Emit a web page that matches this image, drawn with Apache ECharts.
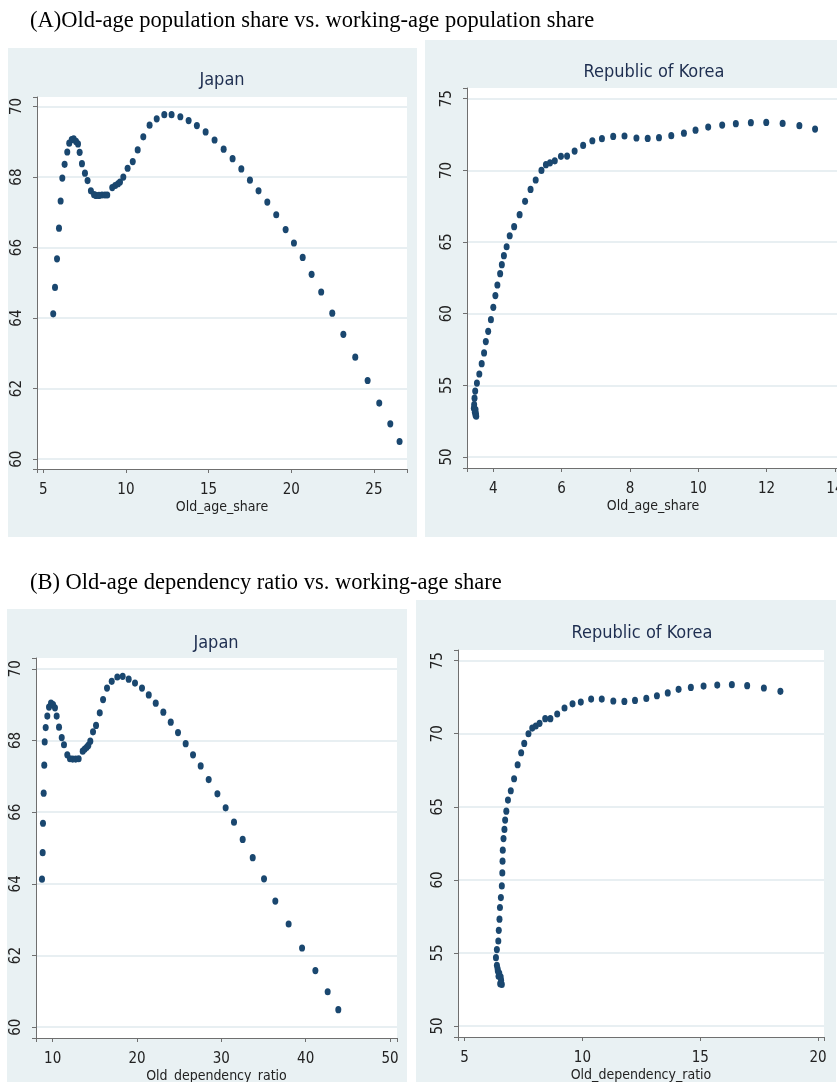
<!DOCTYPE html>
<html>
<head>
<meta charset="utf-8">
<script src="https://cdn.jsdelivr.net/npm/echarts@6/dist/echarts.min.js"></script>
<style>
html,body{margin:0;padding:0;background:#fff;}
#chart{width:837px;height:1082px;}
</style>
</head>
<body>
<div id="chart"></div>
<script>
// ---------- DATA ----------
const headingA = "(A)Old-age population share vs. working-age population share";
const headingB = "(B) Old-age dependency ratio vs. working-age share";
const panelTitles = ["Japan", "Republic of Korea", "Japan", "Republic of Korea"];
const xNames = ["Old_age_share", "Old_age_share", "Old_dependency_ratio", "Old_dependency_ratio"];

// Japan: old-age share (x) vs working-age share (y)
const japanOldShare = [5.60,5.71,5.83,5.95,6.05,6.15,6.29,6.45,6.57,6.72,6.84,6.98,7.10,7.20,7.34,7.52,7.68,7.88,8.07,8.19,8.37,8.55,8.73,8.87,9.17,9.35,9.52,9.64,9.84,10.10,10.41,10.71,11.05,11.43,11.86,12.32,12.76,13.29,13.79,14.29,14.82,15.36,15.91,16.45,16.98,17.50,18.02,18.55,19.09,19.66,20.16,20.69,21.23,21.81,22.48,23.15,23.87,24.62,25.32,25.99,26.55];
const japanWorkShareA = [64.12,64.87,65.68,66.55,67.32,67.97,68.36,68.71,68.96,69.06,69.08,69.01,68.94,68.70,68.38,68.11,67.90,67.61,67.50,67.48,67.48,67.49,67.49,67.49,67.70,67.76,67.81,67.86,68.00,68.25,68.44,68.77,69.14,69.47,69.65,69.77,69.77,69.71,69.60,69.46,69.28,69.05,68.79,68.52,68.23,67.91,67.61,67.29,66.93,66.51,66.13,65.72,65.24,64.74,64.14,63.54,62.89,62.23,61.59,61.00,60.50];

// Korea: old-age share (x) vs working-age share (y)
const koreaOldShare = [3.47,3.45,3.44,3.43,3.46,3.48,3.50,3.49,3.48,3.52,3.59,3.66,3.73,3.78,3.85,3.93,4.00,4.06,4.12,4.20,4.25,4.31,4.39,4.48,4.61,4.77,4.93,5.09,5.24,5.41,5.54,5.66,5.80,5.98,6.16,6.38,6.63,6.90,7.18,7.51,7.84,8.19,8.52,8.85,9.21,9.58,9.92,10.29,10.70,11.10,11.54,11.99,12.47,12.96,13.42];
const koreaWorkShareA = [54.60,54.10,53.65,53.40,53.12,52.92,52.85,53.05,53.30,55.16,55.79,56.51,57.26,58.05,58.77,59.58,60.44,61.26,62.00,62.79,63.42,64.05,64.67,65.44,66.07,66.91,67.84,68.67,69.33,70.00,70.40,70.53,70.67,70.98,71.00,71.35,71.74,72.07,72.21,72.37,72.40,72.26,72.23,72.28,72.42,72.60,72.81,73.02,73.16,73.26,73.33,73.35,73.28,73.12,72.88];

// Japan: old dependency ratio (x) vs working-age share (y)
const japanDepRatio = [8.73,8.81,8.85,8.93,9.00,9.05,9.17,9.36,9.56,9.80,10.04,10.27,10.47,10.75,11.07,11.34,11.73,12.05,12.37,12.73,13.08,13.56,13.80,14.03,14.22,14.46,14.78,15.14,15.58,15.97,16.44,17.00,17.66,18.30,19.01,19.76,20.59,21.39,22.22,23.12,24.00,24.86,25.77,26.64,27.55,28.50,29.53,30.51,31.50,32.53,33.72,35.06,36.40,37.98,39.57,41.15,42.61,43.87];
const japanWorkShareB = [64.13,64.87,65.69,66.53,67.31,67.96,68.36,68.68,68.93,69.04,69.00,68.91,68.68,68.37,68.08,67.88,67.60,67.49,67.48,67.48,67.49,67.70,67.76,67.81,67.86,67.98,68.24,68.42,68.77,69.14,69.46,69.65,69.77,69.79,69.71,69.60,69.46,69.27,69.04,68.79,68.51,68.22,67.91,67.60,67.29,66.91,66.51,66.12,65.72,65.24,64.73,64.14,63.52,62.88,62.21,61.58,60.99,60.49];

// Korea: old dependency ratio (x) vs working-age share (y)
const koreaDepRatio = [6.37,6.40,6.41,6.44,6.47,6.53,6.55,6.58,6.51,6.33,6.37,6.43,6.45,6.48,6.50,6.54,6.58,6.60,6.61,6.62,6.65,6.69,6.72,6.77,6.84,6.96,7.10,7.25,7.40,7.53,7.71,7.87,8.02,8.18,8.42,8.64,8.93,9.24,9.58,9.93,10.37,10.82,11.31,11.78,12.23,12.71,13.16,13.62,14.08,14.60,15.14,15.72,16.34,16.99,17.70,18.40];
const koreaWorkShareB = [54.16,53.93,53.77,53.40,53.63,53.36,53.13,52.85,52.90,54.68,55.23,55.82,56.55,57.31,58.11,58.79,59.59,60.48,61.28,62.03,62.83,63.45,64.09,64.70,65.46,66.10,66.92,67.88,68.70,69.34,70.00,70.39,70.53,70.71,71.03,71.03,71.35,71.76,72.05,72.17,72.37,72.37,72.24,72.21,72.28,72.42,72.60,72.79,73.04,73.17,73.26,73.33,73.36,73.29,73.13,72.90];

// ---------- LAYOUT / STYLE ----------
const FONT = "'Liberation Sans Narrow','Arial Narrow','DejaVu Sans Condensed',sans-serif";
const NAVY = '#1A476F';
const AXIS = '#6f6f6f';
const PANEL = '#E9F1F3';
const GRIDLINE = '#E0EAEE';

const grids = [
  {left: 37,  top: 97,  width: 370, height: 372},
  {left: 467, top: 88,  width: 372, height: 380},
  {left: 36,  top: 658, width: 361, height: 380},
  {left: 458, top: 650, width: 366, height: 387}
];
const xRanges = [[4.62, 27.0, 5], [3.23, 14.12, 2], [8.02, 50.83, 10], [4.72, 20.25, 5]];
const yRanges = [[59.72, 70.27, 2], [49.23, 75.75, 5], [59.70, 70.30, 2], [49.25, 75.73, 5]];

function fmt(step) {
  return function (v) {
    const r = v / step;
    return Math.abs(r - Math.round(r)) < 1e-6 ? String(Math.round(v)) : '';
  };
}
function xAxisCfg(i) {
  const [min, max, step] = xRanges[i];
  return {
    type: 'value', gridIndex: i, min, max, minInterval: step, maxInterval: step,
    name: xNames[i], nameLocation: 'middle', nameGap: 31,
    nameTextStyle: {fontFamily: FONT, fontSize: 14, color: '#222'},
    axisLine: {show: true, onZero: false, lineStyle: {color: AXIS, width: 1}},
    axisTick: {show: true, length: 4, lineStyle: {color: AXIS}},
    axisLabel: {margin: 14, fontFamily: FONT, fontSize: 15, color: '#222', formatter: fmt(step)},
    splitLine: {show: false}
  };
}
function yAxisCfg(i) {
  const [min, max, step] = yRanges[i];
  return {
    type: 'value', gridIndex: i, min, max, minInterval: step, maxInterval: step,
    axisLine: {show: true, onZero: false, lineStyle: {color: AXIS, width: 1}},
    axisTick: {show: true, length: 4, lineStyle: {color: AXIS}},
    axisLabel: {rotate: 90, margin: 12, fontFamily: FONT, fontSize: 15, color: '#222', formatter: fmt(step)},
    splitLine: {show: true, showMinLine: false, showMaxLine: false, lineStyle: {color: GRIDLINE, width: 1.5}}
  };
}
function zip(xs, ys) { return xs.map((x, k) => [x, ys[k]]); }
const seriesData = [
  zip(japanOldShare, japanWorkShareA),
  zip(koreaOldShare, koreaWorkShareA),
  zip(japanDepRatio, japanWorkShareB),
  zip(koreaDepRatio, koreaWorkShareB)
];

const panels = [
  {x: 8,   y: 48,  w: 409, h: 489},
  {x: 425, y: 40,  w: 412, h: 497},
  {x: 7,   y: 609, w: 400, h: 473},
  {x: 416, y: 600, w: 420, h: 482}
];
const titlePos = [[222, 80], [654, 72], [216, 643], [642, 633]];

const graphic = [];
panels.forEach(p => graphic.push({type: 'rect', z: -10, shape: {x: p.x, y: p.y, width: p.w, height: p.h}, style: {fill: PANEL}, silent: true}));
titlePos.forEach((t, i) => graphic.push({type: 'text', x: t[0], y: t[1], style: {text: panelTitles[i], fontFamily: FONT, fontSize: 18, fill: '#1E2E50', align: 'center', verticalAlign: 'middle'}}));
graphic.push({type: 'text', x: 30, y: 21, style: {text: headingA, fontFamily: "'Liberation Serif','Times New Roman',serif", fontSize: 22.5, fill: '#000', align: 'left', verticalAlign: 'middle'}});
graphic.push({type: 'text', x: 30, y: 583, style: {text: headingB, fontFamily: "'Liberation Serif','Times New Roman',serif", fontSize: 22.5, fill: '#000', align: 'left', verticalAlign: 'middle'}});

const option = {
  backgroundColor: '#ffffff',
  animation: false,
  graphic: graphic,
  grid: grids.map(g => Object.assign({show: true, backgroundColor: '#ffffff', borderWidth: 0, containLabel: false, outerBoundsMode: 'none'}, g)),
  xAxis: [0, 1, 2, 3].map(xAxisCfg),
  yAxis: [0, 1, 2, 3].map(yAxisCfg),
  series: seriesData.map((d, i) => ({
    type: 'scatter', xAxisIndex: i, yAxisIndex: i, data: d,
    symbol: 'circle', symbolSize: [6, 7.2],
    itemStyle: {color: NAVY, opacity: 1}
  }))
};

const chart = echarts.init(document.getElementById('chart'), null, {renderer: 'canvas'});
chart.setOption(option);
</script>
</body>
</html>
